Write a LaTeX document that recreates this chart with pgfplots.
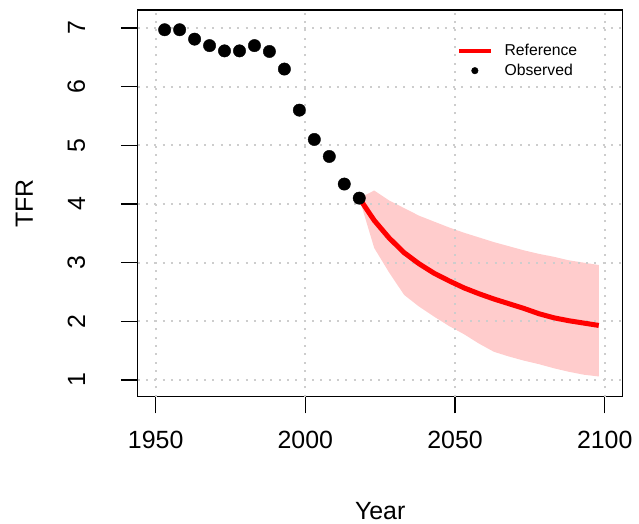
\documentclass[border=0pt]{standalone}
\usepackage{fontspec}
\setmainfont{Liberation Sans}
\usepackage{pgfplots}
\pgfplotsset{compat=1.18}
\definecolor{bandpink}{RGB}{255,204,204}
\definecolor{lgray}{RGB}{205,205,205}
\begin{document}
\begin{tikzpicture}
\useasboundingbox (-137.7bp,-127.3bp) rectangle (501.3bp,396.7bp);
\begin{axis}[
  at={(0,0)}, anchor=south west,
  scale only axis, width=485bp, height=386.7bp,
  xmin=1944, xmax=2106, ymin=0.715, ymax=7.307,
  xtick={1950,2000,2050,2100}, ytick={1,2,3,4,5,6,7},
  xtick pos=bottom, ytick pos=left,
  tick align=outside, major tick length=16.7bp,
  axis line style={line width=1.2bp},
  every tick/.style={black, line width=1.2bp},
  /pgf/number format/assume math mode=true,
  /pgf/number format/1000 sep={},
  ticklabel style={font=\fontsize{25}{30}\selectfont, inner sep=0pt},
  xticklabel style={anchor=north}, xticklabel shift=17.6bp,
  yticklabel style={rotate=90, anchor=south}, yticklabel shift=35.7bp,
  every axis x label/.style={at={(axis description cs:0.5,-0.274)}, anchor=north, inner sep=0pt, font=\fontsize{25}{30}\selectfont},
  every axis y label/.style={at={(axis description cs:-0.2159,0.5)}, rotate=90, anchor=south, inner sep=0pt, font=\fontsize{25}{30}\selectfont},
  xlabel={Year}, ylabel={TFR},
  legend style={draw=none, fill=none, at={(axis description cs:0.652,0.922)}, anchor=north west,
    font=\fontsize{15.8}{19}\selectfont, row sep=3bp, column sep=10bp},
  legend cell align=left,
]
% uncertainty band
\addplot[draw=none, fill=bandpink, forget plot] coordinates {
 (2018,4.10) (2023,4.23) (2028,4.06) (2033,3.93) (2038,3.80) (2043,3.70) (2048,3.60)
 (2053,3.51) (2058,3.43) (2063,3.35) (2068,3.28) (2073,3.21) (2078,3.15) (2083,3.10)
 (2088,3.04) (2093,3.00) (2098,2.96)
 (2098,1.06) (2093,1.09) (2088,1.14) (2083,1.20) (2078,1.27) (2073,1.33) (2068,1.40)
 (2063,1.48) (2058,1.62) (2053,1.78) (2048,1.92) (2043,2.08) (2038,2.25) (2033,2.45)
 (2028,2.83) (2023,3.25) (2018,4.10)
} -- cycle;
% grid
\foreach \gx in {1950,2000,2050,2100} {
  \edef\tmp{\noexpand\draw[lgray, line width=2bp, dash pattern=on 2bp off 6.3bp] (axis cs:\gx,0.715) -- (axis cs:\gx,7.307);}
  \tmp
}
\foreach \gy in {1,2,3,4,5,6,7} {
  \edef\tmp{\noexpand\draw[lgray, line width=2bp, dash pattern=on 2bp off 6.3bp] (axis cs:1944,\gy) -- (axis cs:2106,\gy);}
  \tmp
}
% observed
\addplot[only marks, mark=*, mark size=6.2bp, black, forget plot] coordinates {
 (1953,6.97) (1958,6.97) (1963,6.81) (1968,6.70) (1973,6.61) (1978,6.61) (1983,6.70)
 (1988,6.60) (1993,6.30) (1998,5.60) (2003,5.10) (2008,4.81) (2013,4.34) (2018,4.10)
};
% reference projection
\addplot[red, line width=5bp, forget plot] coordinates {
 (2018,4.10) (2023,3.72) (2028,3.42) (2033,3.17) (2038,2.98) (2043,2.82) (2048,2.69)
 (2053,2.57) (2058,2.47) (2063,2.38) (2068,2.30) (2073,2.22) (2078,2.13) (2083,2.06)
 (2088,2.01) (2093,1.97) (2098,1.93)
};
\addlegendimage{legend image code/.code={\draw[red, line width=3.5bp] (0bp,0bp) -- (32bp,0bp);}}
\addlegendentry{Reference}
\addlegendimage{legend image code/.code={\fill[black] (16bp,0bp) circle (3.3bp);}}
\addlegendentry{Observed}
\end{axis}
\end{tikzpicture}
\end{document}
